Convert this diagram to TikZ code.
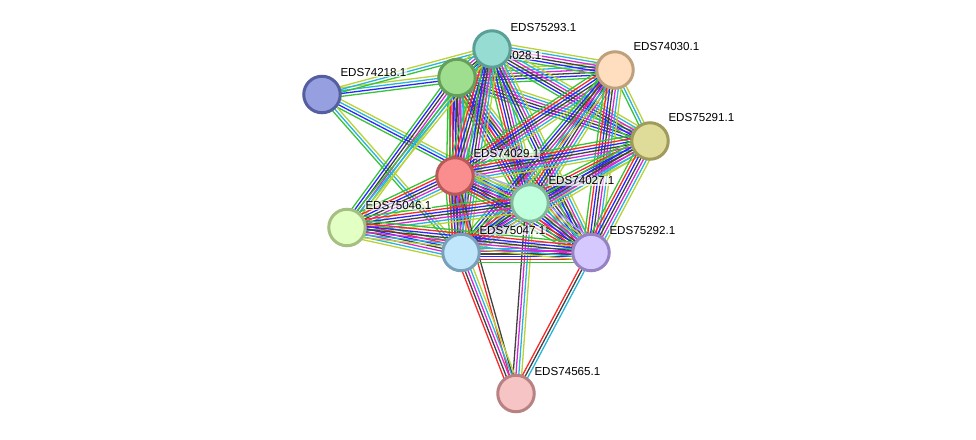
\documentclass[tikz,border=0pt]{standalone}
\usepackage{fontspec}
\setmainfont{Liberation Sans}
\usetikzlibrary{calc}
\pgfdeclarelayer{bg}
\pgfsetlayers{bg,main}
\definecolor{sg}{RGB}{55,195,55}
\definecolor{sr}{RGB}{250,40,40}
\definecolor{sb}{RGB}{40,40,250}
\definecolor{sk}{RGB}{65,65,65}
\definecolor{sm}{RGB}{215,40,215}
\definecolor{sc}{RGB}{40,180,220}
\definecolor{sy}{RGB}{185,210,55}
\definecolor{sh}{RGB}{170,170,250}
\tikzset{
  prot/.style={circle, minimum size=36.5pt, line width=3pt, inner sep=0pt},
  lbl/.style={anchor=west, font=\fontsize{11.6}{13}\selectfont, fill=white, fill opacity=0.65, text opacity=1, inner sep=0.8pt},
  bundleline/.style={line width=1.3pt}
}
\newcommand\bund[3]{%
  \foreach \cc [count=\ii] in {#3}{\xdef\nitems{\ii}}%
  \foreach \cc [count=\ii] in {#3}{%
    \pgfmathsetmacro\offs{(\ii-(\nitems+1)/2)*2.85}%
    \draw[bundleline, draw=\cc] ($(#1)!\offs pt!90:(#2)$) -- ($(#2)!\offs pt!-90:(#1)$);%
  }}
\begin{document}
\begin{tikzpicture}[x=1pt,y=-1pt]
\useasboundingbox (0,0) rectangle (976,439);
% nodes with labels (drawn in order; later ones cover earlier labels)
\node[prot, fill={rgb,255:red,150;green,160;blue,225}, draw={rgb,255:red,85;green,95;blue,160}] (B) at (322,94.5) {};
\node[lbl] (Bl) at ($(B)+(17.5,-22)$) {EDS74218.1};
\node[prot, fill={rgb,255:red,158;green,222;blue,142}, draw={rgb,255:red,100;green,160;blue,90}] (G) at (457,77.5) {};
\node[lbl] (Gl) at ($(G)+(17.5,-22)$) {EDS74028.1};
\node[prot, fill={rgb,255:red,150;green,220;blue,210}, draw={rgb,255:red,90;green,160;blue,150}] (T) at (492,49) {};
\node[lbl] (Tl) at ($(T)+(17.5,-21)$) {EDS75293.1};
\node[prot, fill={rgb,255:red,255;green,222;blue,192}, draw={rgb,255:red,190;green,160;blue,125}] (P) at (615,70) {};
\node[lbl] (Pl) at ($(P)+(17.5,-23)$) {EDS74030.1};
\node[prot, fill={rgb,255:red,222;green,220;blue,152}, draw={rgb,255:red,160;green,155;blue,90}] (Y) at (650,141) {};
\node[lbl] (Yl) at ($(Y)+(17.5,-23)$) {EDS75291.1};
\node[prot, fill={rgb,255:red,250;green,142;blue,142}, draw={rgb,255:red,185;green,90;blue,90}] (R) at (455,176) {};
\node[lbl] (Rl) at ($(R)+(17.5,-22)$) {EDS74029.1};
\node[prot, fill={rgb,255:red,192;green,255;blue,222}, draw={rgb,255:red,130;green,185;blue,155}] (M) at (530,203) {};
\node[lbl] (Ml) at ($(M)+(17.5,-22)$) {EDS74027.1};
\node[prot, fill={rgb,255:red,226;green,255;blue,196}, draw={rgb,255:red,165;green,190;blue,130}] (L) at (347,227.5) {};
\node[lbl] (Ll) at ($(L)+(17.5,-22)$) {EDS75046.1};
\node[prot, fill={rgb,255:red,192;green,230;blue,252}, draw={rgb,255:red,120;green,160;blue,185}] (C) at (461,252.5) {};
\node[lbl] (Cl) at ($(C)+(17.5,-22)$) {EDS75047.1};
\node[prot, fill={rgb,255:red,212;green,200;blue,255}, draw={rgb,255:red,150;green,130;blue,195}] (V) at (591,252.5) {};
\node[lbl] (Vl) at ($(V)+(17.5,-22)$) {EDS75292.1};
\node[prot, fill={rgb,255:red,246;green,196;blue,196}, draw={rgb,255:red,185;green,130;blue,130}] (K) at (516,393.5) {};
\node[lbl] (Kl) at ($(K)+(17.5,-22)$) {EDS74565.1};
\begin{pgfonlayer}{bg}
\bund{B}{G}{sg,sb,sc,sy}
\bund{B}{T}{sg,sc,sy}
\bund{B}{M}{sg,sb,sc,sy}
\bund{B}{C}{sg,sc,sy}
\bund{G}{T}{sg,sr,sb,sk,sm,sc,sy}
\bund{G}{P}{sg,sb,sk,sm,sc,sy}
\bund{G}{Y}{sg,sb,sk,sm,sc,sy}
\bund{G}{R}{sg,sr,sb,sk,sm,sc,sy}
\bund{G}{M}{sg,sr,sb,sk,sm,sc,sy}
\bund{G}{C}{sg,sr,sb,sk,sm,sc,sy}
\bund{G}{V}{sg,sr,sb,sk,sm,sc,sy}
\bund{G}{L}{sg,sb,sk,sm,sc,sy}
\bund{T}{P}{sg,sb,sk,sm,sc,sy}
\bund{T}{Y}{sg,sb,sk,sm,sc,sy}
\bund{T}{R}{sg,sr,sb,sk,sm,sc,sy}
\bund{T}{M}{sg,sr,sb,sk,sm,sc,sy}
\bund{T}{C}{sg,sb,sk,sm,sc,sy}
\bund{T}{V}{sg,sb,sk,sm,sc,sy}
\bund{T}{L}{sg,sc,sy}
\bund{P}{Y}{sg,sc,sy}
\bund{P}{R}{sg,sr,sb,sk,sm,sc,sy}
\bund{P}{M}{sg,sr,sb,sk,sm,sc,sy}
\bund{P}{C}{sg,sb,sk,sm,sc,sy}
\bund{P}{V}{sg,sr,sb,sk,sm,sc,sy}
\bund{Y}{R}{sg,sr,sb,sk,sm,sc,sy}
\bund{Y}{M}{sg,sr,sb,sk,sm,sc,sy}
\bund{Y}{C}{sg,sb,sk,sm,sc,sy}
\bund{Y}{V}{sg,sr,sb,sk,sm,sc,sy}
\bund{R}{M}{sg,sr,sb,sk,sm,sc,sy,sh}
\bund{R}{C}{sg,sr,sb,sk,sm,sc,sy,sh}
\bund{R}{V}{sg,sr,sb,sk,sm,sc,sy}
\bund{R}{L}{sg,sr,sb,sk,sm,sc,sy}
\bund{R}{K}{sr,sk}
\bund{M}{C}{sg,sr,sb,sk,sm,sc,sy,sh}
\bund{M}{V}{sg,sr,sb,sk,sm,sc,sy,sh}
\bund{M}{L}{sg,sr,sb,sk,sm,sc,sy}
\bund{M}{K}{sk,sm,sc,sy}
\bund{C}{V}{sg,sr,sb,sk,sm,sc,sy,sh}
\bund{C}{L}{sg,sr,sb,sk,sm,sc,sy}
\bund{C}{K}{sr,sk,sm,sc,sy}
\bund{V}{L}{sg,sr,sb,sk,sm,sc,sy}
\bund{V}{K}{sr,sk,sc}
\end{pgfonlayer}
\end{tikzpicture}
\end{document}
